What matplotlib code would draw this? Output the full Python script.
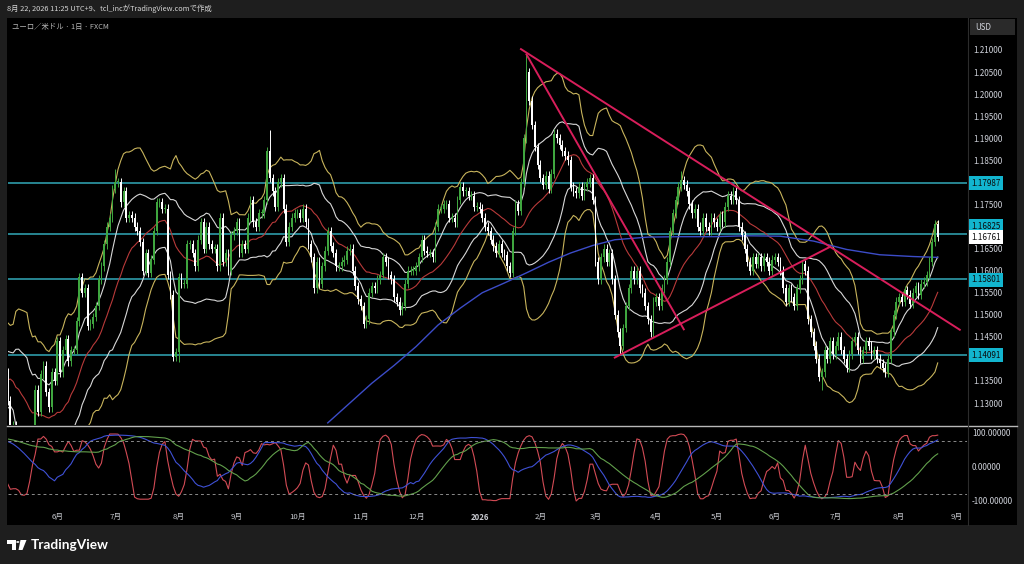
import numpy as np
import pandas as pd
import matplotlib
matplotlib.use('Agg')
import matplotlib.pyplot as plt
from matplotlib.patches import Rectangle, Polygon, Circle
from matplotlib.lines import Line2D

plt.rcParams['font.family'] = ['Noto Sans CJK JP', 'DejaVu Sans']

W, H = 1024, 564

start = '2025-05-07'
end = '2026-08-21'

# off-screen closes (2025-02-24 .. 2025-05-06), only used to warm up the indicators
warmup_closes = [
    1.0460, 1.0515, 1.0485, 1.0400, 1.0375,
    1.0485, 1.0625, 1.0790, 1.0785, 1.0835, 1.0835, 1.0920, 1.0890, 1.0850, 1.0880,
    1.0920, 1.0940, 1.0900, 1.0850, 1.0815, 1.0800, 1.0790, 1.0750, 1.0800, 1.0830, 1.0815,
    1.0790, 1.0850, 1.1050, 1.0960, 1.0910, 1.0960, 1.0950, 1.1190, 1.1360, 1.1350, 1.1285,
    1.1400, 1.1370, 1.1380, 1.1510, 1.1420, 1.1310, 1.1390, 1.1365, 1.1420, 1.1390, 1.1330,
    1.1290, 1.1300, 1.1315, 1.1370,
]

# daily closes, month by month
may25 = [1.1305, 1.1225, 1.1250, 1.1090, 1.1190, 1.1180, 1.1190, 1.1160, 1.1240, 1.1240,
         1.1330, 1.1280, 1.1365, 1.1385, 1.1325, 1.1290, 1.1370, 1.1350]
jun25 = [1.1440, 1.1370, 1.1420, 1.1445, 1.1395, 1.1420, 1.1420, 1.1485, 1.1585, 1.1550,
         1.1560, 1.1475, 1.1480, 1.1495, 1.1520, 1.1580, 1.1610, 1.1660, 1.1700, 1.1720, 1.1785]
jul25 = [1.1800, 1.1800, 1.1755, 1.1780, 1.1720, 1.1725, 1.1720, 1.1700, 1.1690, 1.1665,
         1.1600, 1.1640, 1.1595, 1.1625, 1.1690, 1.1755, 1.1755, 1.1740, 1.1740, 1.1590,
         1.1545, 1.1405, 1.1415]
aug25 = [1.1585, 1.1570, 1.1570, 1.1660, 1.1660, 1.1640, 1.1610, 1.1670, 1.1710, 1.1650,
         1.1700, 1.1660, 1.1650, 1.1650, 1.1610, 1.1720, 1.1620, 1.1640, 1.1600, 1.1680, 1.1690]
sep25 = [1.1710, 1.1640, 1.1660, 1.1650, 1.1720, 1.1760, 1.1710, 1.1700, 1.1730, 1.1730,
         1.1760, 1.1870, 1.1810, 1.1780, 1.1745, 1.1800, 1.1810, 1.1740, 1.1665, 1.1700,
         1.1720, 1.1730]
oct25 = [1.1730, 1.1720, 1.1740, 1.1710, 1.1660, 1.1630, 1.1560, 1.1620, 1.1570, 1.1610,
         1.1645, 1.1690, 1.1655, 1.1640, 1.1610, 1.1610, 1.1620, 1.1625, 1.1645, 1.1650,
         1.1600, 1.1565, 1.1535]
nov25 = [1.1520, 1.1480, 1.1490, 1.1550, 1.1565, 1.1560, 1.1580, 1.1590, 1.1630, 1.1620,
         1.1590, 1.1580, 1.1540, 1.1530, 1.1510, 1.1520, 1.1570, 1.1600, 1.1600, 1.1600]
dec25 = [1.1610, 1.1630, 1.1670, 1.1645, 1.1640, 1.1640, 1.1630, 1.1700, 1.1740, 1.1740,
         1.1750, 1.1750, 1.1720, 1.1720, 1.1710, 1.1760, 1.1790, 1.1780, 1.1780, 1.1770,
         1.1770, 1.1745, 1.1745]
jan26 = [1.1740, 1.1720, 1.1700, 1.1690, 1.1670, 1.1655, 1.1640, 1.1660, 1.1640, 1.1635,
         1.1610, 1.1595, 1.1690, 1.1750, 1.1735, 1.1800, 1.1900, 1.2050, 1.1985, 1.1930,
         1.1880, 1.1840]
feb26 = [1.1810, 1.1795, 1.1815, 1.1785, 1.1820, 1.1910, 1.1900, 1.1885, 1.1870, 1.1860,
         1.1850, 1.1790, 1.1780, 1.1775, 1.1790, 1.1770, 1.1790, 1.1800, 1.1810, 1.1760]
mar26 = [1.1620, 1.1580, 1.1630, 1.1650, 1.1620, 1.1640, 1.1580, 1.1500, 1.1460, 1.1430,
         1.1470, 1.1520, 1.1560, 1.1600, 1.1580, 1.1600, 1.1560, 1.1550, 1.1520, 1.1490,
         1.1460, 1.1530]
apr26 = [1.1540, 1.1520, 1.1560, 1.1580, 1.1620, 1.1690, 1.1730, 1.1760, 1.1790, 1.1805,
         1.1795, 1.1780, 1.1750, 1.1730, 1.1740, 1.1700, 1.1690, 1.1720, 1.1700, 1.1690,
         1.1720, 1.1710]
may26 = [1.1700, 1.1725, 1.1710, 1.1745, 1.1770, 1.1760, 1.1780, 1.1760, 1.1700, 1.1680,
         1.1650, 1.1620, 1.1600, 1.1630, 1.1615, 1.1630, 1.1610, 1.1630, 1.1620, 1.1600, 1.1625]
jun26 = [1.1630, 1.1620, 1.1600, 1.1560, 1.1530, 1.1560, 1.1540, 1.1520, 1.1560, 1.1580,
         1.1615, 1.1600, 1.1490, 1.1460, 1.1430, 1.1400, 1.1360, 1.1370, 1.1420, 1.1400,
         1.1440, 1.1410]
jul26 = [1.1430, 1.1450, 1.1420, 1.1400, 1.1380, 1.1410, 1.1440, 1.1450, 1.1420, 1.1400,
         1.1420, 1.1440, 1.1430, 1.1410, 1.1420, 1.1400, 1.1390, 1.1380, 1.1370, 1.1400,
         1.1460, 1.1500, 1.1530]
aug26 = [1.1540, 1.1530, 1.1555, 1.1545, 1.1525, 1.1550, 1.1565, 1.1545, 1.1570, 1.1575,
         1.1590, 1.1620, 1.1665, 1.1705, 1.16761]

# notable wick extremes
wick_highs = {'2025-07-01': 1.1830, '2025-09-17': 1.1919, '2026-01-26': 1.2090,
              '2026-04-14': 1.1825, '2026-08-20': 1.1715}
wick_lows = {'2025-05-12': 1.1065, '2025-08-01': 1.1392, '2026-03-13': 1.1410,
             '2026-06-24': 1.1330, '2026-07-27': 1.1360}

# 200-day SMA
sma_dates = ['2025-10-16', '2025-10-28', '2025-11-07', '2025-11-19', '2025-12-01', '2025-12-11',
             '2025-12-23', '2026-01-02', '2026-01-14', '2026-01-26', '2026-02-05', '2026-02-17',
             '2026-02-27', '2026-03-11', '2026-03-27', '2026-04-14', '2026-04-30', '2026-05-18',
             '2026-06-03', '2026-06-19', '2026-07-07', '2026-07-23', '2026-08-10', '2026-08-21']
sma_values = [1.1255, 1.1300, 1.1345, 1.1385, 1.1428, 1.1477, 1.1515, 1.1550, 1.1572, 1.1595,
              1.1619, 1.1640, 1.1657, 1.1670, 1.1676, 1.1677, 1.1677, 1.1679, 1.1678, 1.1667,
              1.1648, 1.1636, 1.1632, 1.1630]

levels = [1.17987, 1.16825, 1.15801, 1.14091]
trend_lines = [
    ('2026-01-22', 1.2102, '2026-09-02', 1.1466),
    ('2026-01-26', 1.2090, '2026-04-15', 1.1467),
    ('2026-03-11', 1.1403, '2026-06-29', 1.1654),
]

month_starts = ['2025-06-02', '2025-07-01', '2025-08-01', '2025-09-01', '2025-10-01', '2025-11-03',
                '2025-12-01', '2026-01-01', '2026-02-02', '2026-03-02', '2026-04-01', '2026-05-01',
                '2026-06-01', '2026-07-01', '2026-08-03', '2026-09-01']
month_labels = ['6月', '7月', '8月', '9月', '10月', '11月', '12月', '2026',
                '2月', '3月', '4月', '5月', '6月', '7月', '8月', '9月']

# ---------------------------------------------------------------
dates = pd.bdate_range(start, end)
closes = np.array(may25 + jun25 + jul25 + aug25 + sep25 + oct25 + nov25 + dec25 +
                  jan26 + feb26 + mar26 + apr26 + may26 + jun26 + jul26 + aug26)
assert len(closes) == len(dates)
n_warm = len(warmup_closes)
full = np.array(warmup_closes + list(closes))


def pos(d):
    return np.busday_count(start, d)


k = np.arange(len(closes))
opens = full[n_warm - 1:-1]
wick_pad = 0.0010
highs = np.maximum(opens, closes) + wick_pad
lows = np.minimum(opens, closes) - wick_pad
for d, v in wick_highs.items():
    highs[pos(d)] = v
for d, v in wick_lows.items():
    lows[pos(d)] = v

# Bollinger (20, ±1σ / ±2σ)
s = pd.Series(full)
mid = s.rolling(20).mean().to_numpy()[n_warm:]
sd = s.rolling(20).std(ddof=0).to_numpy()[n_warm:]


def rci(values, n):
    out = np.full(len(values), np.nan)
    t_rank = np.arange(n, 0, -1)
    for i in range(n - 1, len(values)):
        p_rank = pd.Series(values[i - n + 1:i + 1]).rank(ascending=False).to_numpy()
        d = ((t_rank - p_rank) ** 2).sum()
        out[i] = (1 - 6 * d / (n * (n * n - 1))) * 100
    return out


rci_short = rci(full, 9)[n_warm:]
rci_mid = rci(full, 36)[n_warm:]
rci_long = rci(full, 52)[n_warm:]

# ---------------------------------------------------------------
fig = plt.figure(figsize=(W / 100, H / 100), dpi=100, facecolor='#1e1e1e')


def fx(x):
    return x / W


def fy(y):
    return 1 - y / H


fig.patches.append(Rectangle((fx(7), fy(525)), fx(1010), (525 - 18) / H,
                             transform=fig.transFigure, fc='black', ec='none', zorder=-10))

ax = fig.add_axes([fx(8), fy(425), 959 / W, 407 / H])
axo = fig.add_axes([fx(8), fy(507), 959 / W, 80 / H])
xlim = ((8 - 7.6) / 2.76, (967 - 7.6) / 2.76)

for a in (ax, axo):
    a.set_facecolor('black')
    for sp in a.spines.values():
        sp.set_visible(False)
    a.set_xlim(*xlim)

up = closes >= opens
cols = np.where(up, '#3fa63f', '#ffffff')
ax.vlines(k, lows, highs, colors=cols, linewidth=0.7, zorder=3)
ax.bar(k, np.maximum(np.abs(closes - opens), 0.00025), bottom=np.minimum(opens, closes),
       width=0.65, color=cols, linewidth=0, zorder=3)

ax.plot(k, mid + 2 * sd, color='#c8b45c', lw=0.8, zorder=2)
ax.plot(k, mid - 2 * sd, color='#c8b45c', lw=0.8, zorder=2)
ax.plot(k, mid + sd, color='#d8d8d8', lw=0.8, zorder=2)
ax.plot(k, mid - sd, color='#d8d8d8', lw=0.8, zorder=2)
ax.plot(k, mid, color='#b83a3a', lw=0.8, zorder=2)
ax.plot([pos(d) for d in sma_dates], sma_values, color='#3c4cc8', lw=1.0, zorder=2)

for lv in levels:
    ax.axhline(lv, color='#32a9b9', lw=1.1, zorder=1)
for d1, p1, d2, p2 in trend_lines:
    ax.plot([pos(d1), pos(d2)], [p1, p2], color='#d81e5b', lw=1.4, zorder=4)

ax.set_ylim(1.12502, 1.21725)
ticks = [t / 1000 for t in range(1130, 1211, 5) if t not in (1140, 1170, 1180)]
ax.set_yticks(ticks)
ax.yaxis.tick_right()
ax.set_yticklabels([f'{t:.5f}' for t in ticks])
ax.tick_params(axis='y', length=0, pad=4.3, labelsize=5.8, labelcolor='#d1d4dc')
ax.set_xticks([])

# RCI pane
axo.plot(k, rci_short, color='#d24b55', lw=0.8)
axo.plot(k, rci_mid, color='#3f51d6', lw=0.8)
axo.plot(k, rci_long, color='#62a04c', lw=0.8)
for lv in (80, -80):
    axo.axhline(lv, color='#8a8a8a', lw=0.7, ls=(0, (3, 3)))
axo.set_ylim(-117.9, 120.9)
axo.set_yticks([])
axo.set_xticks([pos(d) for d in month_starts])
axo.set_xticklabels(month_labels)
axo.tick_params(axis='x', length=0, pad=4.0, labelsize=5.6, labelcolor='#c8cad0')
for lab in axo.get_xticklabels():
    if lab.get_text() == '2026':
        lab.set_fontweight('bold')

for txt, y in (('100.00000', 434), ('0.00000', 467), ('-100.00000', 501)):
    fig.text(fx(972), fy(y), txt, fontsize=5.8, color='#d1d4dc', va='center', ha='left')

# separators
fig.lines.append(Line2D([fx(7), fx(1017)], [fy(425.5), fy(425.5)], transform=fig.transFigure,
                        color='#b8b8b8', lw=1.0))
fig.lines.append(Line2D([fx(968), fx(968)], [fy(18), fy(525)], transform=fig.transFigure,
                        color='#2c2c2c', lw=0.8))


# price labels on the axis
def price_box(y, txt, fc, tc):
    fig.text(fx(971), fy(y), txt, fontsize=5.8, color=tc, va='center', ha='left',
             bbox=dict(boxstyle='square,pad=0.3', fc=fc, ec='none'))


price_box(183, '1.17987', '#12b5cf', '#0b0b0b')
price_box(226, '1.16825', '#12b5cf', '#0b0b0b')
price_box(237, '1.16761', '#ffffff', '#0b0b0b')
price_box(280, '1.15801', '#12b5cf', '#0b0b0b')
price_box(355, '1.14091', '#12b5cf', '#0b0b0b')

fig.patches.append(Rectangle((fx(970), fy(35)), 45 / W, 16 / H, transform=fig.transFigure,
                             fc='#2a2a2a', ec='none'))
fig.text(fx(975), fy(27.5), 'USD', fontsize=5.8, color='#d1d4dc', va='center', ha='left')

# header / title
fig.text(fx(7), fy(9), '8月 22, 2026 11:25 UTC+9、tcl_incがTradingView.comで作成',
         fontsize=5.3, color='#d6d6d6', va='center', ha='left')
fig.text(fx(12), fy(27), 'ユーロ／米ドル · 1日 · FXCM', fontsize=5.3, color='#b8b8b8',
         va='center', ha='left')

# TradingView logo
fig.patches.append(Polygon([(fx(7), fy(540)), (fx(15.5), fy(540)), (fx(15.5), fy(550)),
                            (fx(11.5), fy(550)), (fx(11.5), fy(543.5)), (fx(7), fy(543.5))],
                           closed=True, transform=fig.transFigure, fc='white', ec='none'))
fig.patches.append(Circle((fx(17.8), fy(542)), 1.6 / W, transform=fig.transFigure,
                          fc='white', ec='none'))
fig.patches.append(Polygon([(fx(20.5), fy(540)), (fx(26.5), fy(540)), (fx(22.5), fy(550)),
                            (fx(18.5), fy(550))],
                           closed=True, transform=fig.transFigure, fc='white', ec='none'))
fig.text(fx(30.5), fy(545), 'TradingView', fontsize=9.8, fontweight='bold', family='Lato',
         color='white', va='center', ha='left')

fig.savefig('out.png', dpi=100, facecolor=fig.get_facecolor())
